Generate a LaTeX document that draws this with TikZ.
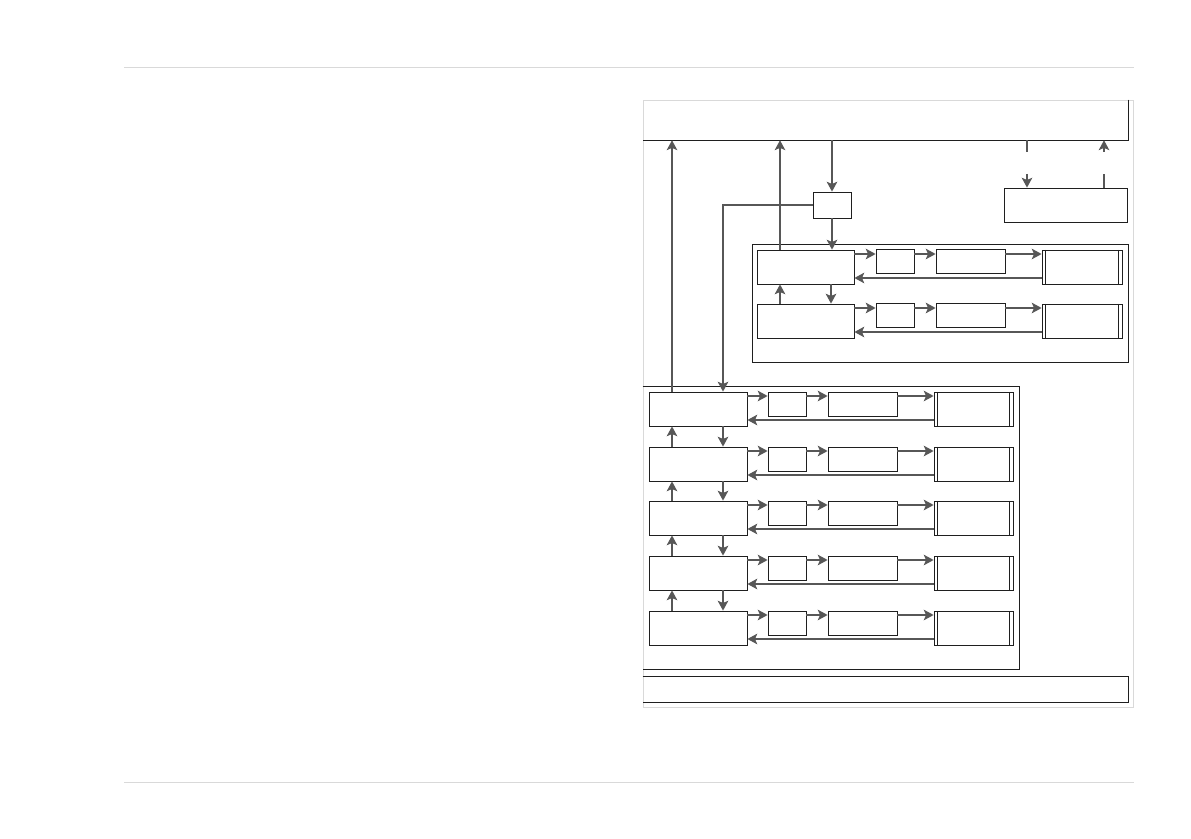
\documentclass[tikz,border=0pt]{standalone}
\usetikzlibrary{fit,arrows.meta}
\tikzset{
  blocco/.style  = {rectangle, draw=black!88, line width=0.55pt, inner sep=0},
  doppio/.style  = {blocco, path picture={
      \draw[bordo] ([xshift=0.075cm]path picture bounding box.north west) -- ([xshift=0.075cm]path picture bounding box.south west);
      \draw[bordo] ([xshift=-0.09cm]path picture bounding box.north east) -- ([xshift=-0.09cm]path picture bounding box.south east);}},
  bordo/.style   = {draw=black!88, line width=0.55pt},
  filo/.style    = {draw=black!66, line width=1.2pt},
  freccia/.style = {filo, -{Stealth[length=7pt,width=7.5pt,inset=1.6pt]}},
  regola/.style  = {draw=black!15, line width=0.7pt}
}
\begin{document}
\begin{tikzpicture}[x=0.025cm,y=-0.025cm]
  \useasboundingbox (0,0) rectangle (1191,839);
  % righe di pagina e cornice
  \draw[regola] (124,67) -- (1134,67);
  \draw[regola] (124,782) -- (1134,782);
  \node[fit={(643,100)(1133,707)}, inner sep=0, draw=black!15, line width=0.7pt] (cornice) {};

  % blocco superiore, blocco esterno e selettore
  \node[fit={(643,100)(1128,140)}, inner sep=0] (host) {};
  \draw[bordo] (host.north east) -- (host.south east) -- (host.south west);
  \node[blocco, fit={(1004,188)(1127,222)}] (est) {};
  \node[blocco, fit={(813,192)(851,218)}] (sel) {};

  % gruppi
  \node[blocco, fit={(752,244)(1128,362)}] (gr1) {};
  \node[fit={(643,387)(1019,669)}, inner sep=0] (gr2) {};
  \draw[bordo] (gr2.north west) -- (gr2.north east) -- (gr2.south east) -- (gr2.south west);
  \node[fit={(643,677)(1128,702)}, inner sep=0] (barra) {};
  \draw[bordo] (barra.north west) -- (barra.north east) -- (barra.south east) -- (barra.south west);

  % righe del gruppo superiore
  \foreach \i/\t in {1/250,2/304}{
    \node[blocco, fit={(757,\t)(854,\t+34)}] (a\i) {};
    \node[blocco, fit={(876,\t-1)(914,\t+23)}] (as\i) {};
    \node[blocco, fit={(936,\t-1)(1005,\t+23)}] (am\i) {};
    \node[doppio, fit={(1042,\t)(1122,\t+34)}] (ar\i) {};
    \draw[freccia] (a\i.east |- 0,\t+4) -- (as\i.west |- 0,\t+4);
    \draw[freccia] (as\i.east |- 0,\t+4) -- (am\i.west |- 0,\t+4);
    \draw[freccia] (am\i.east |- 0,\t+4) -- (ar\i.west |- 0,\t+4);
    \draw[freccia] (ar\i.west |- 0,\t+28) -- (a\i.east |- 0,\t+28);
  }
  \draw[freccia] (a2.north -| 780,0) -- (a1.south -| 780,0);
  \draw[freccia] (a1.south -| 831,0) -- (a2.north -| 831,0);

  % righe del gruppo inferiore
  \foreach \i/\t in {1/392,2/447,3/501,4/556,5/611}{
    \node[blocco, fit={(649,\t)(747,\t+34)}] (b\i) {};
    \node[blocco, fit={(768,\t)(806,\t+24)}] (bs\i) {};
    \node[blocco, fit={(828,\t)(897,\t+24)}] (bm\i) {};
    \node[doppio, fit={(934,\t)(1013,\t+34)}] (br\i) {};
    \draw[freccia] (b\i.east |- 0,\t+4) -- (bs\i.west |- 0,\t+4);
    \draw[freccia] (bs\i.east |- 0,\t+4) -- (bm\i.west |- 0,\t+4);
    \draw[freccia] (bm\i.east |- 0,\t+4) -- (br\i.west |- 0,\t+4);
    \draw[freccia] (br\i.west |- 0,\t+28) -- (b\i.east |- 0,\t+28);
  }
  \foreach \i [count=\j from 2] in {1,...,4}{
    \draw[freccia] (b\j.north -| 672,0) -- (b\i.south -| 672,0);
    \draw[freccia] (b\i.south -| 723,0) -- (b\j.north -| 723,0);
  }

  % collegamenti verso il blocco superiore
  \draw[freccia] (b1.north -| 672,0) -- (host.south -| 672,0);
  \draw[freccia] (a1.north -| 780,0) -- (host.south -| 780,0);
  \draw[freccia] (host.south -| sel.north) -- (sel.north);
  \draw[freccia] (sel.south) -- (a1.north -| sel.south);
  \draw[freccia] (sel.west) -| (b1.north -| 723,0);

  % collegamenti interrotti con il blocco esterno
  \coordinate (g1a) at (1027,152); \coordinate (g1b) at (1027,174);
  \coordinate (g2a) at (1104,174); \coordinate (g2b) at (1104,152);
  \draw[filo] (host.south -| g1a) -- (g1a);
  \draw[freccia] (g1b) -- (est.north -| g1b);
  \draw[filo] (est.north -| g2a) -- (g2a);
  \draw[freccia] (g2b) -- (host.south -| g2b);
\end{tikzpicture}
\end{document}
